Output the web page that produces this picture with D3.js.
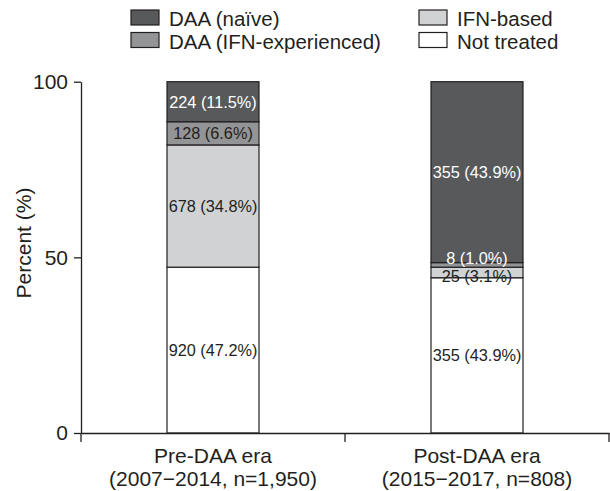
<!DOCTYPE html>
<html>
<head>
<meta charset="utf-8">
<script src="https://cdn.jsdelivr.net/npm/d3@7/dist/d3.min.js"></script>
<style>
  html, body { margin: 0; padding: 0; background: #fff; }
  svg { display: block; font-family: "Liberation Sans", Arial, sans-serif; }
</style>
</head>
<body>
<svg id="chart" width="610" height="491"></svg>
<script>
// ---- data ----
const categories = ["Pre-DAA era", "Post-DAA era"];
const categorySubtitles = ["(2007\u22122014, n=1,950)", "(2015\u22122017, n=808)"];
const seriesNames = ["Not treated", "IFN-based", "DAA (IFN-experienced)", "DAA (naïve)"];
// segment heights (%) as drawn, bottom to top
const preHeights  = [47.2, 34.8, 6.6, 11.5];
const postHeights = [44.2, 3.0, 1.3, 51.5];
// printed labels
const preLabels  = ["920 (47.2%)", "678 (34.8%)", "128 (6.6%)", "224 (11.5%)"];
const postLabels = ["355 (43.9%)", "25 (3.1%)", "8 (1.0%)", "355 (43.9%)"];
const yTicks = [0, 50, 100];

// ---- style ----
const colors = {"Not treated": "#ffffff", "IFN-based": "#d1d2d4", "DAA (IFN-experienced)": "#939496", "DAA (naïve)": "#58595b"};
const labelColors = {"Not treated": "#231f20", "IFN-based": "#231f20", "DAA (IFN-experienced)": "#231f20", "DAA (naïve)": "#ffffff"};
const ink = "#231f20";
// small vertical nudges for crowded labels (post bar)
const labelNudge = {"Post-DAA era|DAA (IFN-experienced)": -6.5, "Post-DAA era|IFN-based": 3.5};
const labelFill = {"Post-DAA era|DAA (IFN-experienced)": "#ffffff"};

const svg = d3.select("#chart");
const margin = {left: 81, right: 1, top: 81.7, bottom: 58};
const W = 610, H = 491;

const x = d3.scaleBand().domain(categories).range([margin.left, W - margin.right]).padding(0);
const y = d3.scaleLinear().domain([0, 100]).range([H - margin.bottom, margin.top]);
const barW = 92;

const rows = [];
[[preHeights, preLabels], [postHeights, postLabels]].forEach(([hs, ls], ci) => {
  let acc = 0;
  hs.forEach((h, si) => {
    rows.push({cat: categories[ci], series: seriesNames[si], y0: acc, y1: acc + h, label: ls[si]});
    acc += h;
  });
});

const cx = c => x(c) + x.bandwidth() / 2;

// bars
svg.append("g").selectAll("rect").data(rows).join("rect")
  .attr("x", d => cx(d.cat) - barW / 2)
  .attr("width", barW)
  .attr("y", d => y(Math.min(d.y1, 100)))
  .attr("height", d => y(d.y0) - y(Math.min(d.y1, 100)))
  .attr("fill", d => colors[d.series])
  .attr("stroke", ink)
  .attr("stroke-width", 1.2);

// labels
svg.append("g").selectAll("text").data(rows).join("text")
  .attr("x", d => cx(d.cat))
  .attr("y", d => (y(d.y0) + y(Math.min(d.y1, 100))) / 2 + (labelNudge[d.cat + "|" + d.series] || 0))
  .attr("text-anchor", "middle")
  .attr("dominant-baseline", "central")
  .attr("font-size", 16.3)
  .attr("fill", d => labelFill[d.cat + "|" + d.series] || labelColors[d.series])
  .text(d => d.label);

// y axis
const yAxis = svg.append("g")
  .attr("transform", `translate(${margin.left},0)`)
  .call(d3.axisLeft(y).tickValues(yTicks).tickSize(7).tickSizeOuter(0).tickPadding(6).tickFormat(d3.format("d")));
yAxis.selectAll("path, line").attr("stroke", ink).attr("stroke-width", 1.3);
yAxis.selectAll("text").attr("font-size", 21).attr("fill", ink).attr("font-family", "Liberation Sans, Arial, sans-serif");

// x axis
const xAxis = svg.append("g")
  .attr("transform", `translate(0,${y(0)})`)
  .call(d3.axisBottom(x).tickSize(0).tickSizeOuter(0).tickFormat(() => ""));
xAxis.selectAll("path").attr("stroke", ink).attr("stroke-width", 1.3);
const bounds = [x(categories[0]), ...categories.map(c => x(c) + x.bandwidth())];
xAxis.selectAll("line.bound").data(bounds).join("line").attr("class", "bound")
  .attr("x1", d => d).attr("x2", d => d).attr("y1", 0).attr("y2", 9)
  .attr("stroke", ink).attr("stroke-width", 1.3);

// category labels
const catG = svg.append("g").selectAll("text").data(categories).join("text")
  .attr("x", d => cx(d))
  .attr("text-anchor", "middle")
  .attr("font-size", 21)
  .attr("fill", ink);
catG.append("tspan").attr("x", d => cx(d)).attr("y", 463).text(d => d);
catG.append("tspan").attr("x", d => cx(d)).attr("y", 486).text((d, i) => categorySubtitles[i]);

// y title
svg.append("text")
  .attr("transform", `translate(31,243) rotate(-90)`)
  .attr("text-anchor", "middle")
  .attr("font-size", 21)
  .attr("fill", ink)
  .text("Percent (%)");

// legend
const legendItems = [
  {name: "DAA (naïve)", col: 0, row: 0},
  {name: "DAA (IFN-experienced)", col: 0, row: 1},
  {name: "IFN-based", col: 1, row: 0},
  {name: "Not treated", col: 1, row: 1}
];
const colX = [131, 419];
const lg = svg.append("g").selectAll("g").data(legendItems).join("g")
  .attr("transform", d => `translate(${colX[d.col]},${10 + d.row * 22.5})`);
lg.append("rect").attr("width", 28).attr("height", 15)
  .attr("fill", d => colors[d.name]).attr("stroke", ink).attr("stroke-width", 1.2);
lg.append("text").attr("x", 38).attr("y", 16).attr("font-size", 20.5).attr("fill", ink)
  .text(d => d.name);
</script>
</body>
</html>
